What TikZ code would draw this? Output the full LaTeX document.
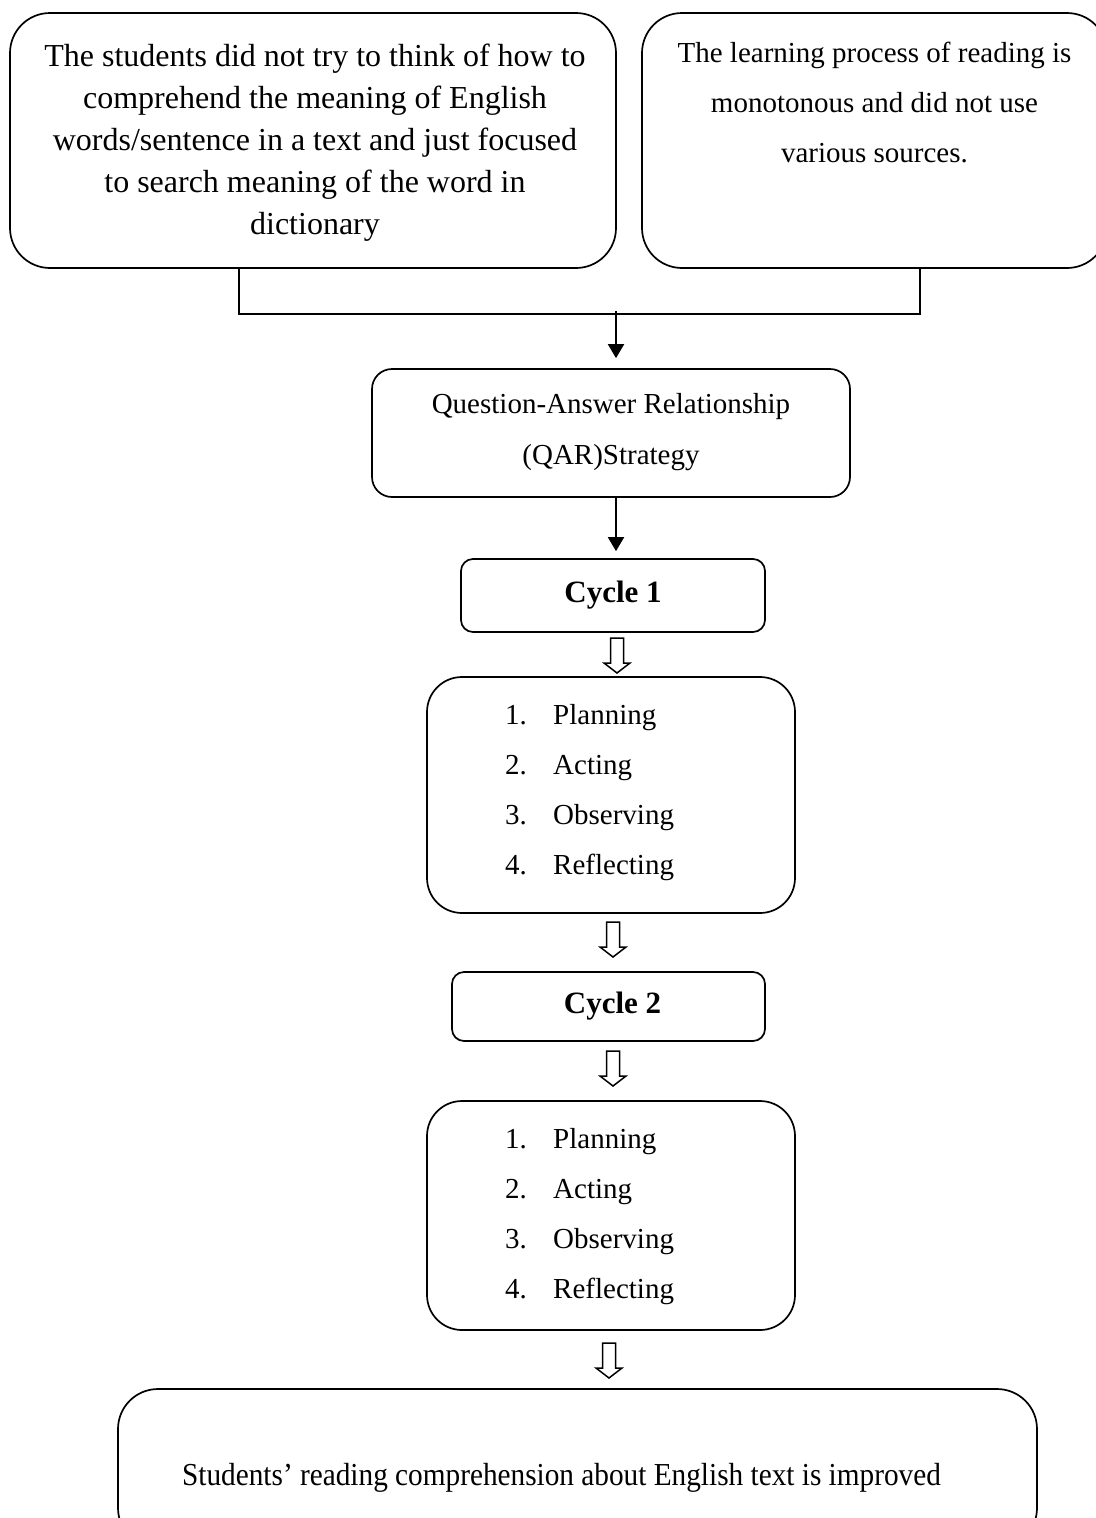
\documentclass[tikz,border=0pt]{standalone}
\usepackage{fontspec}
\setmainfont{Liberation Serif}
\usepackage{graphicx}
\usetikzlibrary{arrows.meta,calc}
\newcommand{\hollowdown}[1]{%
  \draw[hollow] (#1) ++(-6.5,0) -- ++(0,25) -- ++(-6.5,0) -- ++(13,10) -- ++(13,-10) -- ++(-6.5,0) -- ++(0,-25) -- cycle;}
\begin{document}
\begin{tikzpicture}[x=1pt,y=-1pt,
  box/.style={draw,line width=1.7pt,rounded corners=#1,inner sep=0pt},
  txt/.style={inner sep=0pt,align=center},
  conn/.style={line width=1.9pt},
  arr/.style={line width=1.9pt,-{Triangle[width=16pt,length=14pt]}},
  hollow/.style={line width=1.5pt,line join=miter,fill=white},
  body/.style={font=\fontsize{29}{50}\selectfont},
  steptxt/.style={inner sep=0pt,anchor=base west,font=\fontsize{29}{35}\selectfont}]
\useasboundingbox (0,0) rectangle (1095,1518);

% top boxes
\node[box=40pt, minimum width=606pt, minimum height=255pt] (bA) at (313,140.5) {};
\node[txt, font=\fontsize{32}{42}\selectfont, anchor=north] (tA) at (315,43.5) {The students did not try to think of how to\\comprehend the meaning of English\\words/sentence in a text and just focused\\to search meaning of the word in\\dictionary};

\node[box=40pt, minimum width=465pt, minimum height=255pt] (bB) at (874.5,140.5) {};
\node[txt, body, anchor=north] (tB) at (874.5,42.2) {The learning process of reading is\\monotonous and did not use\\various sources.};

% joining connector
\coordinate (jL) at (239,314);
\coordinate (jR) at (920,314);
\coordinate (jM) at (616,314);
\draw[conn] (bA.south -| jL) -- (jL) -- (jR) -- (bB.south -| jR);

% QAR
\node[box=20pt, minimum width=478pt, minimum height=128pt] (qar) at (611,433) {};
\node[txt, font=\fontsize{29}{51}\selectfont, anchor=north] (tq) at (611,393.5) {Question-Answer Relationship\\(QAR)Strategy};
\draw[arr, shorten >=10pt] ($(jM)+(0,-3)$) -- (qar.north -| jM);

% Cycle 1
\node[box=12pt, minimum width=304pt, minimum height=73pt, font=\fontsize{31}{37}\selectfont\bfseries] (c1) at (613,595.5) {Cycle 1};
\draw[arr, shorten >=7pt] (qar.south -| jM) -- (c1.north -| jM);

\coordinate (h1) at (617,638);
\hollowdown{h1}

% steps 1
\node[box=35pt, minimum width=368pt, minimum height=236pt] (s1) at (611,795) {};
\node[steptxt] (s1a) at (505,724) {\makebox[48pt][l]{1.}Planning};
\node[steptxt] (s1b) at (505,774) {\makebox[48pt][l]{2.}Acting};
\node[steptxt] (s1c) at (505,824) {\makebox[48pt][l]{3.}Observing};
\node[steptxt] (s1d) at (505,874) {\makebox[48pt][l]{4.}Reflecting};

\coordinate (h2) at (613,922);
\hollowdown{h2}

% Cycle 2
\node[box=12pt, minimum width=313pt, minimum height=69pt] (c2) at (608.5,1006.5) {};
\node[inner sep=0pt, font=\fontsize{31}{37}\selectfont\bfseries] (tc2) at (612.5,1006.5) {Cycle 2};

\coordinate (h3) at (613,1051);
\hollowdown{h3}

% steps 2
\node[box=35pt, minimum width=368pt, minimum height=229pt] (s2) at (611,1215.5) {};
\node[steptxt] (s2a) at (505,1148) {\makebox[48pt][l]{1.}Planning};
\node[steptxt] (s2b) at (505,1198) {\makebox[48pt][l]{2.}Acting};
\node[steptxt] (s2c) at (505,1248) {\makebox[48pt][l]{3.}Observing};
\node[steptxt] (s2d) at (505,1298) {\makebox[48pt][l]{4.}Reflecting};

\coordinate (h4) at (609,1343);
\hollowdown{h4}

% final
\node[box=40pt, minimum width=919pt, minimum height=159pt] (fin) at (577.5,1468.5) {};
\node[inner sep=0pt, anchor=base] (tf) at (561.5,1485) {\scalebox{0.915}[1]{\fontsize{32}{38}\selectfont Students’ reading comprehension about English text is improved}};
\end{tikzpicture}
\end{document}
